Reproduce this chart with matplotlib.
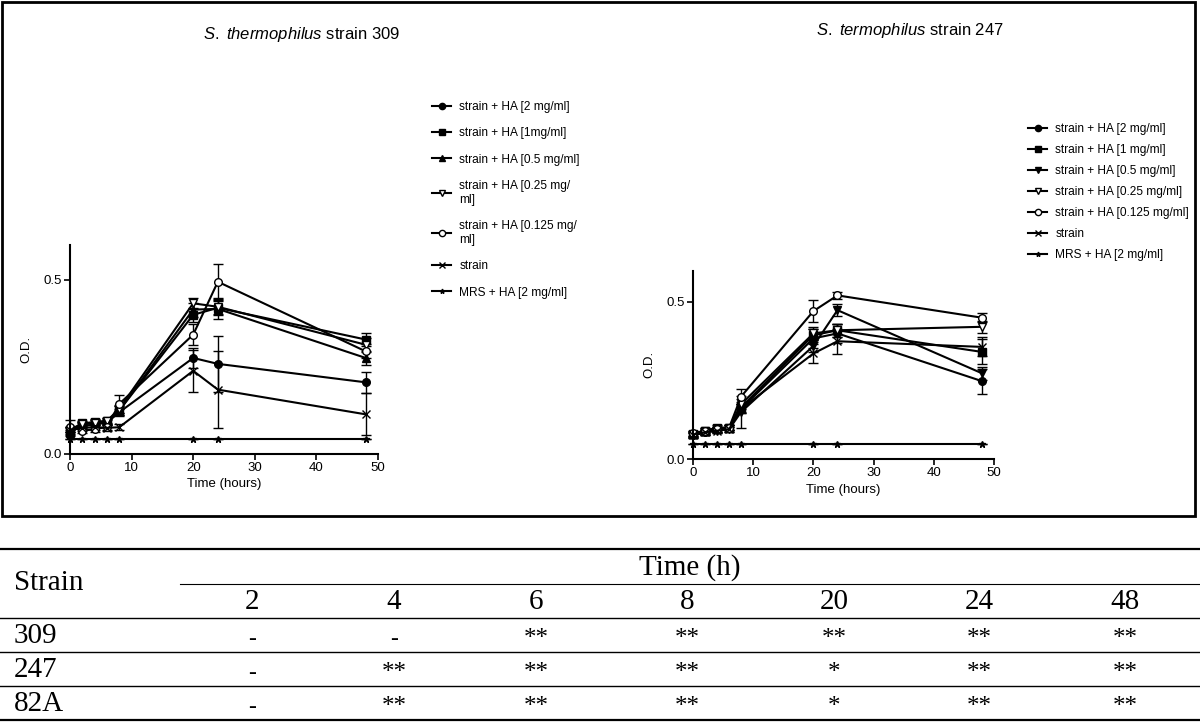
import numpy as np
import matplotlib.pyplot as plt
from matplotlib.lines import Line2D
from matplotlib.patches import Rectangle

plt.rcParams['font.family'] = ['Liberation Sans', 'DejaVu Sans']
plt.rcParams['mathtext.fontset'] = 'custom'
plt.rcParams['mathtext.rm'] = 'Liberation Sans'
plt.rcParams['mathtext.it'] = 'Liberation Sans:italic'

W, H = 1200, 728

# sampling times (hours)
times = [0, 2, 4, 6, 8, 20, 24, 48]

# S. thermophilus strain 309
labels_309 = ['strain + HA [2 mg/ml]', 'strain + HA [1mg/ml]', 'strain + HA [0.5 mg/ml]',
              'strain + HA [0.25 mg/\nml]', 'strain + HA [0.125 mg/\nml]', 'strain', 'MRS + HA [2 mg/ml]']
od_309 = [
    [0.065, 0.080, 0.085, 0.090, 0.120, 0.276, 0.259, 0.206],
    [0.070, 0.088, 0.092, 0.095, 0.125, 0.400, 0.420, 0.329],
    [0.060, 0.085, 0.090, 0.092, 0.125, 0.415, 0.417, 0.276],
    [0.070, 0.085, 0.090, 0.095, 0.130, 0.433, 0.423, 0.314],
    [0.078, 0.067, 0.071, 0.078, 0.144, 0.343, 0.495, 0.295],
    [0.070, 0.075, 0.077, 0.075, 0.077, 0.239, 0.185, 0.114],
    [0.043, 0.043, 0.043, 0.043, 0.043, 0.043, 0.043, 0.043],
]
err_309 = [
    [0.010, 0.008, 0.008, 0.008, 0.010, 0.030, 0.080, 0.030],
    [0.008, 0.008, 0.008, 0.008, 0.012, 0.020, 0.020, 0.020],
    [0.008, 0.008, 0.008, 0.008, 0.012, 0.020, 0.030, 0.020],
    [0.008, 0.008, 0.008, 0.008, 0.012, 0.015, 0.020, 0.020],
    [0.020, 0.008, 0.008, 0.010, 0.025, 0.030, 0.050, 0.020],
    [0.008, 0.008, 0.008, 0.008, 0.008, 0.060, 0.110, 0.060],
    [0, 0, 0, 0, 0, 0, 0, 0],
]

# S. termophilus strain 247
labels_247 = ['strain + HA [2 mg/ml]', 'strain + HA [1 mg/ml]', 'strain + HA [0.5 mg/ml]',
              'strain + HA [0.25 mg/ml]', 'strain + HA [0.125 mg/ml]', 'strain', 'MRS + HA [2 mg/ml]']
od_247 = [
    [0.075, 0.085, 0.095, 0.100, 0.160, 0.384, 0.400, 0.248],
    [0.080, 0.090, 0.100, 0.100, 0.165, 0.394, 0.410, 0.341],
    [0.075, 0.085, 0.090, 0.095, 0.150, 0.360, 0.474, 0.273],
    [0.078, 0.088, 0.095, 0.100, 0.175, 0.400, 0.410, 0.421],
    [0.082, 0.090, 0.095, 0.100, 0.199, 0.471, 0.521, 0.450],
    [0.078, 0.085, 0.090, 0.095, 0.160, 0.336, 0.375, 0.357],
    [0.049, 0.049, 0.049, 0.049, 0.049, 0.049, 0.049, 0.049],
]
err_247 = [
    [0.008, 0.008, 0.008, 0.008, 0.015, 0.030, 0.030, 0.040],
    [0.008, 0.008, 0.008, 0.008, 0.015, 0.020, 0.020, 0.040],
    [0.008, 0.008, 0.008, 0.008, 0.050, 0.020, 0.020, 0.020],
    [0.008, 0.008, 0.008, 0.008, 0.015, 0.020, 0.020, 0.020],
    [0.008, 0.008, 0.008, 0.008, 0.025, 0.035, 0.010, 0.015],
    [0.008, 0.008, 0.008, 0.008, 0.015, 0.030, 0.040, 0.030],
    [0, 0, 0, 0, 0, 0, 0, 0],
]

# marker styles: (marker, face)
styles_309 = [('o', 'k'), ('s', 'k'), ('^', 'k'), ('v', 'w'), ('o', 'w'), ('x', 'k'), ('*', 'k')]
styles_247 = [('o', 'k'), ('s', 'k'), ('v', 'k'), ('v', 'w'), ('o', 'w'), ('x', 'k'), ('*', 'k')]

# table data
table_times = ['2', '4', '6', '8', '20', '24', '48']
table_strains = ['309', '247', '82A']
table_marks = [
    ['-', '-', '**', '**', '**', '**', '**'],
    ['-', '**', '**', '**', '*', '**', '**'],
    ['-', '**', '**', '**', '*', '**', '**'],
]


def fx(px):
    return px / W


def fy(py):
    return 1 - py / H


fig = plt.figure(figsize=(12, 7.28), dpi=100)


def growth_panel(x0, y0, x50, y05, od, err, styles, labels, title, title_xy, leg_xy, leg_space):
    # axis placed so data 0..50 / 0..0.6 lands on the pixel positions of the reference
    unit = (y0 - y05) / 0.5
    ax = fig.add_axes([fx(x0), fy(y0), (x50 - x0) / W, 0.6 * unit / H])
    handles = []
    for vals, e, (m, fc), lab in zip(od, err, styles, labels):
        ms = 4.5 if m == '*' else 5.5
        ax.errorbar(times, vals, yerr=e, color='k', lw=1.5, elinewidth=1.0, capsize=3.5,
                    capthick=1.0, marker=m, ms=ms, mfc=fc, mec='k', mew=1.0, clip_on=False)
        handles.append(Line2D([], [], color='k', lw=1.5, marker=m, ms=ms - 1, mfc=fc, mec='k', mew=1.0))
    ax.set_xlim(0, 50)
    ax.set_ylim(0, 0.6)
    ax.set_xticks([0, 10, 20, 30, 40, 50])
    ax.set_yticks([0, 0.5])
    ax.set_yticklabels(['0.0', '0.5'])
    for s in ['top', 'right']:
        ax.spines[s].set_visible(False)
    for s in ['left', 'bottom']:
        ax.spines[s].set_linewidth(1.5)
    ax.tick_params(width=1.2, length=4, labelsize=9.5, pad=2)
    ax.set_xlabel('Time (hours)', fontsize=9.5, labelpad=3)
    ax.set_ylabel('O.D.', fontsize=9.5, labelpad=8)
    fig.text(fx(title_xy[0]), fy(title_xy[1]), title, fontsize=12, ha='center', va='center')
    fig.legend(handles, labels, loc='upper left', bbox_to_anchor=(fx(leg_xy[0]), fy(leg_xy[1])),
               frameon=False, fontsize=8.6, handlelength=1.6, handletextpad=0.7,
               labelspacing=leg_space, borderaxespad=0, borderpad=0)
    return ax


growth_panel(70, 454, 378, 280, od_309, err_309, styles_309, labels_309,
             r'$\it{S.\ thermophilus}$ strain 309', (302, 34), (432, 101), 1.2)
growth_panel(693, 459, 994, 302, od_247, err_247, styles_247, labels_247,
             r'$\it{S.\ termophilus}$ strain 247', (910, 30), (1028, 123), 0.75)

# frame around the two graphs
fig.add_artist(Rectangle((fx(2), fy(516)), fx(1193), (516 - 2) / H, transform=fig.transFigure,
                         fill=False, lw=2, ec='k'))

# significance table
serif = ['Liberation Serif', 'DejaVu Serif']
col_x = [252, 394, 536, 687, 834, 979, 1125]


def hline(y, x0, x1, lw):
    fig.add_artist(Line2D([fx(x0), fx(x1)], [fy(y), fy(y)], transform=fig.transFigure, color='k', lw=lw))


hline(549, 0, 1200, 1.6)
hline(584, 180, 1200, 0.8)
hline(618, 0, 1200, 1.0)
hline(652, 0, 1200, 1.0)
hline(686, 0, 1200, 1.0)
hline(720, 0, 1200, 1.6)

fs = 21
fig.text(fx(14), fy(583), 'Strain', family=serif, fontsize=fs, ha='left', va='center')
fig.text(fx(690), fy(568), 'Time (h)', family=serif, fontsize=fs, ha='center', va='center')
for cx, t in zip(col_x, table_times):
    fig.text(fx(cx), fy(602), t, family=serif, fontsize=fs, ha='center', va='center')
for i, (st, row) in enumerate(zip(table_strains, table_marks)):
    yy = 636 + i * 34
    fig.text(fx(14), fy(yy), st, family=serif, fontsize=fs, ha='left', va='center')
    for cx, mk in zip(col_x, row):
        if mk == '-':
            fig.text(fx(cx), fy(yy + 3), mk, family=serif, fontsize=fs - 4, ha='center', va='center')
        else:
            fig.text(fx(cx), fy(yy + 3), mk, family=serif, fontsize=fs - 3, ha='center', va='center')

fig.savefig('out.png', dpi=100)
